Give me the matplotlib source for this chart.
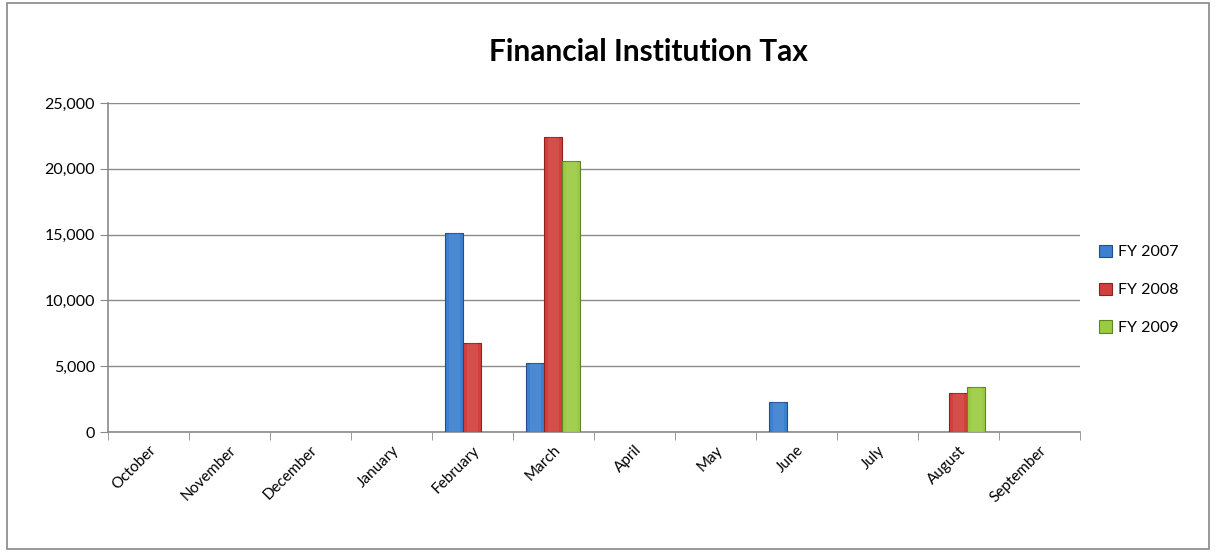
import numpy as np
import matplotlib.pyplot as plt
from matplotlib.patches import Rectangle

months = ["October", "November", "December", "January", "February", "March",
          "April", "May", "June", "July", "August", "September"]
fy2007 = [0, 0, 0, 0, 15120, 5260, 0, 0, 2280, 0, 0, 0]
fy2008 = [0, 0, 0, 0, 6800, 22390, 0, 0, 0, 0, 2990, 0]
fy2009 = [0, 0, 0, 0, 0, 20590, 0, 0, 0, 0, 3440, 0]
series = [("FY 2007", fy2007, "#3d7fd0", "#1f4f8f"),
          ("FY 2008", fy2008, "#d1403c", "#8c2220"),
          ("FY 2009", fy2009, "#9bcb42", "#5f8424")]

plt.rcParams['font.family'] = ['Lato', 'DejaVu Sans']

fig = plt.figure(figsize=(12.16, 5.56), dpi=100)
fig.patches.append(Rectangle((0.006, 0.012), 0.988, 0.982, transform=fig.transFigure,
                             fill=False, edgecolor="#888888", linewidth=1.2))
ax = fig.add_axes([0.0888, 0.223, 0.7992, 0.5917])

x = np.arange(len(months))
w = 1 / 4.5
for i, (name, vals, col, edge) in enumerate(series):
    pos = x + (i - 1) * w
    v = np.array(vals, dtype=float)
    mask = v > 0
    ax.bar(pos[mask], v[mask], w, color=col, edgecolor=edge, linewidth=0.8,
           label=name, zorder=3)
    # slight highlight to hint at the bevelled bars
    ax.bar(pos[mask], v[mask], w * 0.6, color="white", alpha=0.08,
           linewidth=0, zorder=4)

ax.set_xlim(-0.5, len(months) - 0.5)
ax.set_ylim(0, 25000)
ax.set_yticks(range(0, 25001, 5000))
ax.set_yticklabels([f"{t:,}" for t in range(0, 25001, 5000)], fontsize=11.5)
ax.yaxis.grid(True, color="#8a8a8a", linewidth=1)
ax.set_axisbelow(True)

ax.set_xticks(x)
ax.set_xticklabels(months, rotation=45, ha="right", rotation_mode="anchor", fontsize=11)
ax.tick_params(axis="x", length=0, pad=8)
ax.set_xticks(np.arange(-0.5, len(months)), minor=True)
ax.tick_params(axis="x", which="minor", length=6, color="#8a8a8a")
ax.tick_params(axis="y", length=6, color="#8a8a8a")

for s in ["top", "right"]:
    ax.spines[s].set_visible(False)
for s in ["left", "bottom"]:
    ax.spines[s].set_color("#8a8a8a")
    ax.spines[s].set_linewidth(1.2)

fig.text(0.533, 0.907, "Financial Institution Tax", ha="center", va="center",
         fontsize=21.5, fontweight="bold")

ax.legend(loc="center left", bbox_to_anchor=(1.005, 0.432), frameon=False, fontsize=11.5,
          handlelength=0.8, handleheight=0.8, labelspacing=1.45, handletextpad=0.4)

fig.savefig("out.png", dpi=100)
